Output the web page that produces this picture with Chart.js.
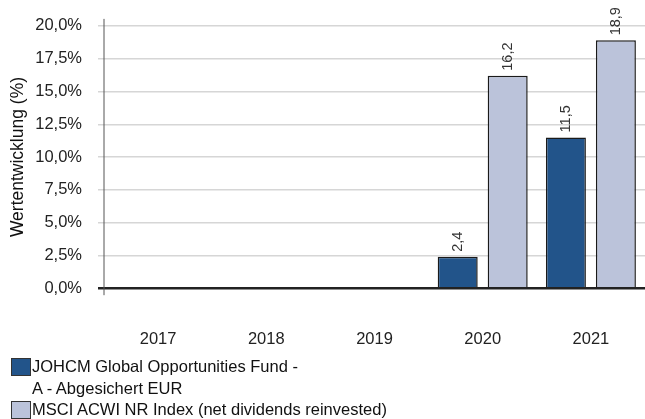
<!DOCTYPE html>
<html lang="de">
<head>
    <meta charset="UTF-8">
    <title>Wertentwicklung</title>
    <script src="https://cdn.jsdelivr.net/npm/chart.js"></script>
    <style>
        body { margin: 0; background: #fff; font-family: "Liberation Sans", Arial, sans-serif; }
        #wrap { position: relative; width: 645px; height: 382px; }
        #legend { position: absolute; left: 11px; top: 356px; font-size: 16.5px; color: #111; line-height: 21.5px; }
        .item { position: relative; padding-left: 21px; }
        .box { position: absolute; left: 0; top: 2px; width: 18px; height: 16px; border: 1px solid #333; }
    </style>
</head>
<body>
    <div id="wrap"><canvas id="chart"></canvas></div>
    <div id="legend"></div>

    <script>
        // Daten
        const years = ['2017', '2018', '2019', '2020', '2021'];
        const fundValues = [null, null, null, 2.4, 11.5];
        const indexValues = [null, null, null, 16.2, 18.9];
        const fundName = ['JOHCM Global Opportunities Fund -', 'A - Abgesichert EUR'];
        const indexName = ['MSCI ACWI NR Index (net dividends reinvested)'];
        const fundColor = '#22548a';
        const indexColor = '#bbc3da';

        const fmt = v => v.toFixed(1).replace('.', ',');

        // Werte über den Balken (senkrecht)
        const barLabels = {
            id: 'barLabels',
            afterDatasetsDraw(chart) {
                const ctx = chart.ctx;
                ctx.save();
                ctx.font = '14.5px "Liberation Sans", Arial, sans-serif';
                ctx.fillStyle = '#333';
                ctx.textAlign = 'left';
                ctx.textBaseline = 'middle';
                chart.data.datasets.forEach((ds, i) => {
                    chart.getDatasetMeta(i).data.forEach((bar, j) => {
                        const v = ds.data[j];
                        if (v == null) return;
                        ctx.save();
                        ctx.translate(bar.x, bar.y - 5);
                        ctx.rotate(-Math.PI / 2);
                        ctx.fillText(fmt(v), 0, 0);
                        ctx.restore();
                    });
                });
                ctx.restore();
            }
        };

        // Y-Achsenlinie etwas über/unter den Plotbereich verlängern
        const axisLine = {
            id: 'axisLine',
            afterDraw(chart) {
                const ctx = chart.ctx;
                const x = chart.scales.y.right;
                const a = chart.chartArea;
                ctx.save();
                ctx.strokeStyle = '#555';
                ctx.lineWidth = 1;
                ctx.beginPath();
                ctx.moveTo(x, a.top - 7);
                ctx.lineTo(x, a.bottom + 7);
                ctx.stroke();
                ctx.restore();
            }
        };

        new Chart(document.getElementById('chart'), {
            type: 'bar',
            data: {
                labels: years,
                datasets: [
                    { label: fundName.join(' '), data: fundValues, backgroundColor: fundColor, borderColor: '#1a1a1a', borderWidth: 1.5, borderSkipped: 'bottom' },
                    { label: indexName[0], data: indexValues, backgroundColor: indexColor, borderColor: '#1a1a1a', borderWidth: 1.5, borderSkipped: 'bottom' }
                ]
            },
            options: {
                responsive: true,
                maintainAspectRatio: false,
                animation: false,
                layout: { padding: { top: 12, right: 0, left: 0, bottom: 0 } },
                datasets: { bar: { categoryPercentage: 0.924, barPercentage: 0.8 } },
                plugins: {
                    legend: { display: false },
                    tooltip: { enabled: false }
                },
                scales: {
                    x: {
                        grid: { display: false },
                        border: { display: false },
                        ticks: { padding: 33, color: '#222', font: { size: 16.5, family: '"Liberation Sans", Arial, sans-serif' } }
                    },
                    y: {
                        min: 0,
                        max: 20,
                        afterFit(scale) { scale.width = 104; },
                        ticks: {
                            stepSize: 2.5,
                            padding: 16,
                            color: '#222',
                            font: { size: 16.5, family: '"Liberation Sans", Arial, sans-serif' },
                            callback: v => fmt(v) + '%'
                        },
                        grid: {
                            tickLength: 6,
                            color: c => c.tick.value === 0 ? '#222' : '#d6d6d6',
                            lineWidth: c => c.tick.value === 0 ? 2.5 : 1.5
                        },
                        border: { display: false },
                        title: {
                            display: true,
                            text: 'Wertentwicklung (%)',
                            color: '#111',
                            padding: { top: 8, bottom: 0 },
                            font: { size: 17.5, family: '"Liberation Sans", Arial, sans-serif' }
                        }
                    }
                }
            },
            plugins: [barLabels, axisLine]
        });

        // Legende unten
        const legend = document.getElementById('legend');
        [[fundName, fundColor], [indexName, indexColor]].forEach(([lines, color]) => {
            const item = document.createElement('div');
            item.className = 'item';
            item.innerHTML = '<span class="box" style="background:' + color + '"></span>' + lines.join('<br>');
            legend.appendChild(item);
        });
    </script>
</body>
</html>
